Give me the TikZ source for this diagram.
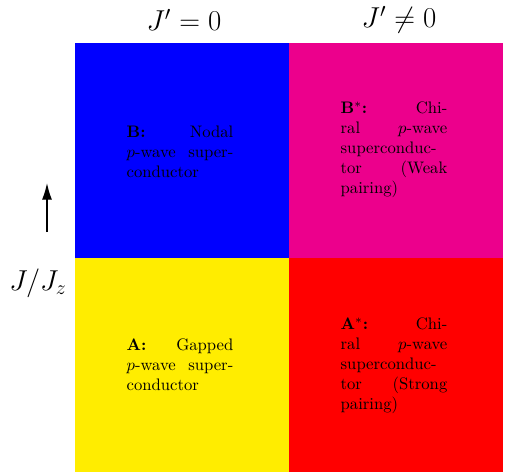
\documentclass[tikz,border=0pt]{standalone}
\usetikzlibrary{arrows.meta}
\definecolor{qblue}{RGB}{0,0,255}
\definecolor{qmag}{RGB}{236,0,140}
\definecolor{qyel}{RGB}{255,237,0}
\definecolor{qred}{RGB}{255,0,0}
\begin{document}
\begin{tikzpicture}[x=0.6pt,y=-0.6pt,
  desc/.style={text width=64pt, align=justify, inner sep=0pt, font=\normalsize},
  head/.style={inner sep=0pt, font=\fontsize{16.5}{20}\selectfont}]
\useasboundingbox (0,0) rectangle (508,473);
\fill[qblue] (75,43) rectangle (289,258);
\fill[qmag] (289,43) rectangle (503,258);
\fill[qyel] (75,258) rectangle (289,472);
\fill[qred] (289,258) rectangle (503,472);
\coordinate (cB) at (180,152);
\coordinate (cBs) at (394,150);
\coordinate (cA) at (180,365);
\coordinate (cAs) at (394,366);
\node[desc] (B) at (cB) {\textbf{B:} Nodal $p$-wave superconductor};
\node[desc] (Bs) at (cBs) {\textbf{B$^*$:} Chiral $p$-wave superconductor (Weak pairing)};
\node[desc] (A) at (cA) {\textbf{A:} Gapped $p$-wave superconductor};
\node[desc] (As) at (cAs) {\textbf{A$^*$:} Chiral $p$-wave superconductor (Strong pairing)};
\node[head] (h1) at (184,20) {$J'=0$};
\node[head] (h2) at (399,20) {$J'\neq 0$};
\coordinate (tail) at (47,232);
\coordinate (tip) at (47,183);
\draw[-{Latex[length=10pt,width=6pt]}, line width=0.8pt] (tail) -- (tip);
\node[head] (jl) at (38,283) {$J/J_z$};
\end{tikzpicture}
\end{document}
